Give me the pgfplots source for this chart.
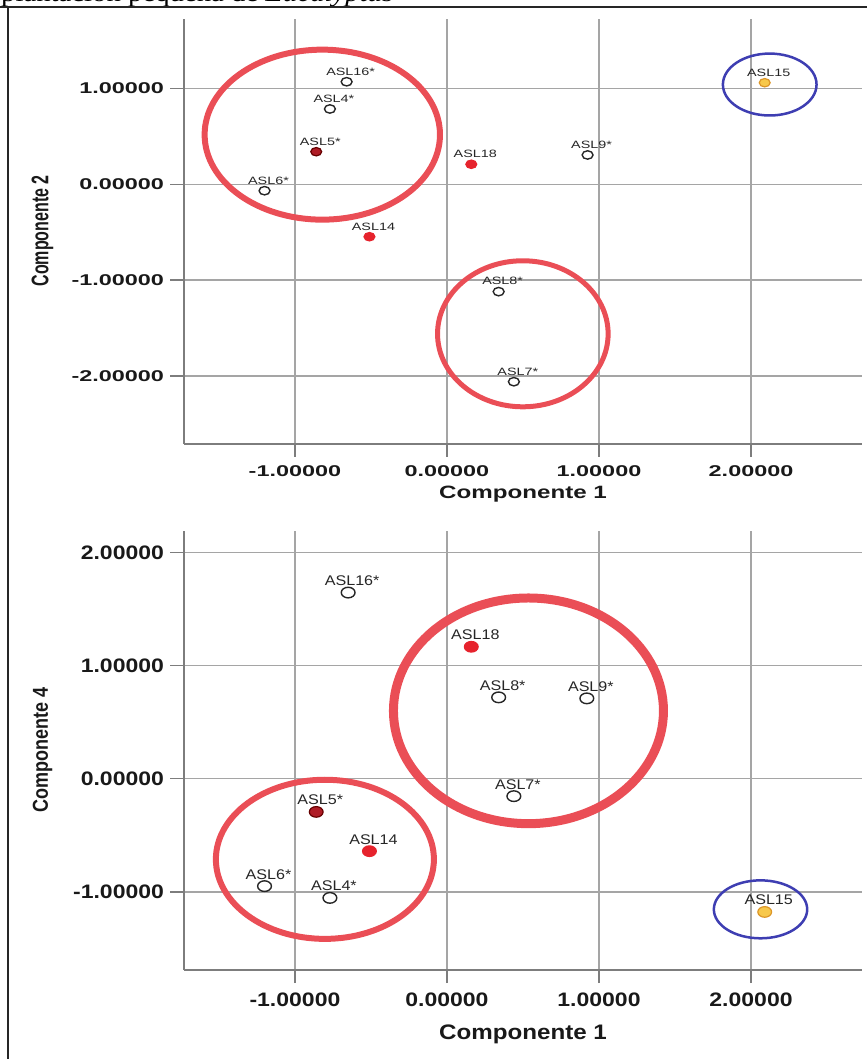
\documentclass[border=0pt]{standalone}
\usepackage{pgfplots}
\pgfplotsset{compat=1.18}
\usepackage{pgfplotstable}
\usepackage{graphicx}
\usepackage{fontspec}
\setmainfont{Liberation Sans}
\newfontfamily\serif{Liberation Serif}
\definecolor{ellred}{RGB}{234,78,86}
\definecolor{ellblue}{RGB}{62,62,178}
\definecolor{ptred}{RGB}{230,35,45}
\definecolor{ptdark}{RGB}{175,28,38}
\definecolor{ptyellow}{RGB}{247,200,75}
\definecolor{ptorange}{RGB}{220,150,40}
\definecolor{gridgray}{RGB}{165,165,165}
\definecolor{axgray}{RGB}{125,125,125}
\newcommand\ts[1]{\scalebox{1.2}[0.8]{#1}}
\newcommand\bs[1]{\scalebox{1.15}[1]{#1}}
\newcommand\tl[1]{\scalebox{1.15}[0.85]{#1}}

% top chart: Componente 1 vs Componente 2
\pgfplotstableread{
x y label
-0.66 1.07 ASL16*
-0.77 0.786 ASL4*
-1.20 -0.067 ASL6*
0.925 0.306 ASL9*
0.34 -1.12 ASL8*
0.44 -2.06 ASL7*
}\topHollow
\pgfplotstableread{
x y label
-0.86 0.34 ASL5*
}\topDark
\pgfplotstableread{
x y label
-0.51 -0.547 ASL14
0.16 0.209 ASL18
}\topRed
\pgfplotstableread{
x y label
2.09 1.06 ASL15
}\topYel

% bottom chart: Componente 1 vs Componente 4
\pgfplotstableread{
x y label
-0.65 1.645 ASL16*
0.34 0.719 ASL8*
0.92 0.71 ASL9*
0.44 -0.154 ASL7*
-1.20 -0.949 ASL6*
-0.77 -1.053 ASL4*
}\botHollow
\pgfplotstableread{
x y label
-0.86 -0.293 ASL5*
}\botDark
\pgfplotstableread{
x y label
0.16 1.166 ASL18
-0.51 -0.64 ASL14
}\botRed
\pgfplotstableread{
x y label
2.09 -1.177 ASL15
}\botYel

\pgfplotsset{
  pcabase/.style={
    scale only axis, width=678.5pt,
    axis lines*=left,
    xmin=-1.733, xmax=2.73,
    xtick={-1,0,1,2},
    grid=major,
    major grid style={gridgray, line width=1.3pt},
    axis line style={axgray, line width=2pt},
    tick style={axgray, line width=1.5pt},
    tick align=outside,
    major tick length=13pt,
    ticklabel style={font=\fontsize{19.5}{19.5}\selectfont\bfseries, text=black!90},
    yticklabel style={xshift=-3pt},
    clip=false,
  },
  hol/.style={only marks, mark=*, mark options={fill=white, draw=black!85, line width=1.4pt, xscale=1.3}},
  dre/.style={only marks, mark=*, mark options={fill=ptdark, draw=black!60!red, line width=1.2pt, xscale=1.3}},
  rre/.style={only marks, mark=*, mark options={fill=ptred, draw=ptred, line width=1.2pt, xscale=1.3}},
  yel/.style={only marks, mark=*, mark options={fill=ptyellow, draw=ptorange, line width=1.2pt, xscale=1.3}},
  toplab/.style={point meta=explicit symbolic,
    nodes near coords={\tl{\pgfplotspointmeta}},
    nodes near coords align={anchor=base},
    every node near coord/.append style={font=\fontsize{12.5}{13}\selectfont, text=black!85, inner sep=0pt, xshift=4pt, yshift=6.7pt}},
  botlab/.style={point meta=explicit symbolic,
    nodes near coords={\bs{\pgfplotspointmeta}},
    nodes near coords align={anchor=base},
    every node near coord/.append style={font=\fontsize{14}{14}\selectfont, text=black!85, inner sep=0pt, xshift=4pt, yshift=7pt}},
}

\begin{document}
\begin{tikzpicture}
\path[use as bounding box] (0pt,0pt) rectangle (867pt,1059pt);

% page fragment above the figure
\node[anchor=base west, inner sep=0pt, font=\serif\fontsize{25}{28}\selectfont, text=black] at (1pt,1057pt) {\bs{plantación pequeña de \textit{Eucalyptus}}};
\draw[black!85, line width=1.5pt] (0pt,1052pt) -- (867pt,1052pt);
\draw[black!85, line width=1.5pt] (8pt,1052pt) -- (8pt,0pt);

% ---------------- top chart ----------------
\begin{axis}[pcabase, at={(183.5pt,615pt)}, anchor=south west,
  height=425pt, ymin=-2.71, ymax=1.725,
  ytick={-2,-1,0,1},
  xticklabel style={yshift=-5pt},
  xticklabels={\ts{-1.00000},\ts{0.00000},\ts{1.00000},\ts{2.00000}},
  yticklabels={\ts{-2.00000},\ts{-1.00000},\ts{0.00000},\ts{1.00000}},
  mark size=4.2pt]
\draw[ellred, line width=6pt] (axis cs:-0.82,0.518) ellipse [x radius=0.774, y radius=0.887];
\draw[ellred, line width=5pt] (axis cs:0.499,-1.56) ellipse [x radius=0.561, y radius=0.762];
\draw[ellblue, line width=2.5pt] (axis cs:2.123,1.041) ellipse [x radius=0.308, y radius=0.323];
\addplot[hol, toplab] table[x=x, y=y, meta=label] {\topHollow};
\addplot[dre, toplab] table[x=x, y=y, meta=label] {\topDark};
\addplot[rre, toplab] table[x=x, y=y, meta=label] {\topRed};
\addplot[yel, toplab] table[x=x, y=y, meta=label] {\topYel};
\end{axis}
\node[font=\fontsize{21}{21}\selectfont\bfseries, text=black!90] at (523pt,565pt) {\scalebox{1.15}[0.85]{Componente 1}};
\node[font=\fontsize{20}{20}\selectfont\bfseries, text=black!90, rotate=90] at (42.5pt,828pt) {\scalebox{0.8}[1.2]{Componente 2}};

% ---------------- bottom chart ----------------
\begin{axis}[pcabase, at={(183.5pt,89pt)}, anchor=south west,
  height=439pt, ymin=-1.69, ymax=2.189,
  ytick={-1,0,1,2},
  xticklabel style={yshift=-6pt},
  xticklabels={\scalebox{1.18}[1]{-1.00000},\scalebox{1.18}[1]{0.00000},\scalebox{1.18}[1]{1.00000},\scalebox{1.18}[1]{2.00000}},
  yticklabels={\scalebox{1.18}[1]{-1.00000},\scalebox{1.18}[1]{0.00000},\scalebox{1.18}[1]{1.00000},\scalebox{1.18}[1]{2.00000}},
  mark size=5.3pt]
\draw[ellred, line width=9pt] (axis cs:0.536,0.60) ellipse [x radius=0.888, y radius=0.997];
\draw[ellred, line width=6pt] (axis cs:-0.803,-0.712) ellipse [x radius=0.717, y radius=0.703];
\draw[ellblue, line width=2.5pt] (axis cs:2.0625,-1.154) ellipse [x radius=0.307, y radius=0.256];
\addplot[hol, botlab] table[x=x, y=y, meta=label] {\botHollow};
\addplot[dre, botlab] table[x=x, y=y, meta=label] {\botDark};
\addplot[rre, botlab] table[x=x, y=y, meta=label] {\botRed};
\addplot[yel, botlab] table[x=x, y=y, meta=label] {\botYel};
\end{axis}
\node[font=\fontsize{21}{21}\selectfont\bfseries, text=black!90] at (523pt,25pt) {\bs{Componente 1}};
\node[font=\fontsize{18}{18}\selectfont\bfseries, text=black!90, rotate=90] at (42.5pt,309pt) {\scalebox{1}[1.2]{Componente 4}};
\end{tikzpicture}
\end{document}
